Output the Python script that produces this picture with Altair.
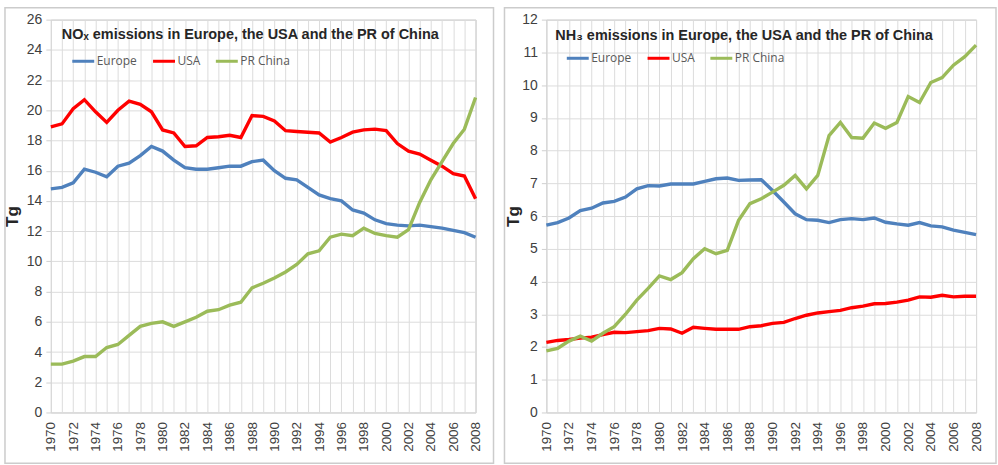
import altair as alt
import pandas as pd

years = list(range(1970, 2009))
series_names = ["Europe", "USA", "PR China"]
series_colors = ["#4F81BD", "#FF0000", "#9BBB59"]

nox_europe = [14.8, 14.9, 15.2, 16.1, 15.9, 15.6, 16.3, 16.5, 17.0, 17.6,
              17.3, 16.7, 16.2, 16.1, 16.1, 16.2, 16.3, 16.3, 16.6, 16.7,
              16.0, 15.5, 15.4, 14.9, 14.4, 14.15, 14.0, 13.4, 13.2, 12.75,
              12.5, 12.4, 12.35, 12.4, 12.3, 12.2, 12.05, 11.9, 11.6]
nox_usa = [18.9, 19.1, 20.1, 20.7, 19.9, 19.2, 20.0, 20.6, 20.4, 19.9,
           18.7, 18.5, 17.6, 17.65, 18.2, 18.25, 18.35, 18.2, 19.65, 19.6,
           19.3, 18.65, 18.6, 18.55, 18.5, 17.9, 18.2, 18.55, 18.7, 18.75,
           18.65, 17.8, 17.3, 17.1, 16.7, 16.3, 15.8, 15.65, 14.15]
nox_china = [3.2, 3.2, 3.4, 3.7, 3.7, 4.3, 4.5, 5.1, 5.7, 5.9,
             6.0, 5.7, 6.0, 6.3, 6.7, 6.8, 7.1, 7.3, 8.25, 8.55,
             8.9, 9.3, 9.8, 10.5, 10.7, 11.6, 11.8, 11.7, 12.2, 11.85,
             11.7, 11.6, 12.1, 13.9, 15.4, 16.6, 17.8, 18.75, 20.85]

nh3_europe = [5.72, 5.8, 5.94, 6.17, 6.24, 6.4, 6.45, 6.58, 6.83, 6.93,
              6.92, 6.98, 6.98, 6.98, 7.06, 7.14, 7.16, 7.09, 7.1, 7.11,
              6.78, 6.43, 6.07, 5.89, 5.87, 5.8, 5.89, 5.92, 5.89, 5.94,
              5.81, 5.76, 5.72, 5.8, 5.7, 5.67, 5.57, 5.5, 5.43]
nh3_usa = [2.14, 2.2, 2.23, 2.27, 2.3, 2.38, 2.45, 2.44, 2.47, 2.5,
           2.57, 2.55, 2.42, 2.6, 2.57, 2.54, 2.54, 2.54, 2.62, 2.65,
           2.72, 2.75, 2.87, 2.97, 3.04, 3.08, 3.12, 3.2, 3.25, 3.32,
           3.33, 3.37, 3.43, 3.53, 3.52, 3.58, 3.53, 3.55, 3.55]
nh3_china = [1.88, 1.96, 2.18, 2.33, 2.18, 2.42, 2.62, 3.0, 3.43, 3.79,
             4.17, 4.06, 4.27, 4.7, 5.0, 4.85, 4.95, 5.87, 6.38, 6.53,
             6.73, 6.94, 7.24, 6.83, 7.24, 8.46, 8.86, 8.4, 8.38, 8.84,
             8.68, 8.86, 9.65, 9.47, 10.08, 10.23, 10.61, 10.87, 11.22]

nox_title = "NO\u2093 emissions in Europe, the USA and the PR of China"
nh3_title = "NH\u2083 emissions in Europe, the USA and the PR of China"
y_title = "Tg"

nox_ticks = list(range(0, 27, 2))
nh3_ticks = list(range(0, 13, 1))

AXIS_FONT = "Liberation Sans"


def long_table(eu, us, cn):
    rows = []
    for name, vals in zip(series_names, [eu, us, cn]):
        for yr, v in zip(years, vals):
            rows.append({"year": yr, "series": name, "value": v})
    return pd.DataFrame(rows)


def panel(df, title, ymax, yticks, w, h, tx, ty, lx, ly, title_x, frame):
    fx1, fx2, fy1, fy2 = frame
    box = alt.Chart(pd.DataFrame({"f": [0]})).mark_rect(
        fillOpacity=0, stroke="#CCCCCC", strokeWidth=1.5
    ).encode(
        x=alt.value(fx1), x2=alt.value(w + fx2),
        y=alt.value(fy1), y2=alt.value(h + fy2),
    )
    lines = alt.Chart(df).mark_line(strokeWidth=3.4).encode(
        x=alt.X("year:Q", scale=alt.Scale(domain=[1970, 2008], nice=False, zero=False),
                axis=alt.Axis(values=years, format="d", title=None, labelAngle=-90,
                              labelExpr="datum.value % 2 == 0 ? datum.label : ''",
                              ticks=False, labelPadding=9, labelFontSize=13.5,
                              labelFont=AXIS_FONT, labelColor="#404040",
                              grid=True, gridColor="#DCDCDC", domain=False)),
        y=alt.Y("value:Q", scale=alt.Scale(domain=[0, ymax], nice=False),
                axis=alt.Axis(values=yticks, title=y_title, titleFontSize=17,
                              titleFont=AXIS_FONT, titleFontWeight="bold",
                              titleColor="#262626", titleX=title_x,
                              labelFontSize=14, labelFont=AXIS_FONT,
                              labelColor="#404040", tickSize=5,
                              tickColor="#D0D0D0", labelPadding=4,
                              grid=True, gridColor="#DCDCDC", domain=False)),
        color=alt.Color("series:N",
                        scale=alt.Scale(domain=series_names, range=series_colors),
                        legend=alt.Legend(orient="none", legendX=lx, legendY=ly,
                                          direction="horizontal", title=None,
                                          symbolType="stroke", symbolSize=484,
                                          symbolStrokeWidth=3, labelFontSize=12,
                                          labelFont="Open Sans", labelColor="#595959",
                                          labelOffset=1, columnPadding=9)),
        order=alt.Order("year:Q"),
    )
    ttl = alt.Chart(pd.DataFrame({"t": [title]})).mark_text(
        align="left", baseline="middle", fontSize=14.5, fontWeight="bold",
        font=AXIS_FONT, color="#262626"
    ).encode(x=alt.value(tx), y=alt.value(ty), text="t:N")
    return alt.layer(box, lines, ttl).properties(width=w, height=h)


left = panel(long_table(nox_europe, nox_usa, nox_china), nox_title, 26, nox_ticks,
             426, 394, 11, 15, 20, 29, -29, (-46, 18, -12, 51))
right = panel(long_table(nh3_europe, nh3_usa, nh3_china), nh3_title, 12, nh3_ticks,
              431, 394, 9, 16, 19, 26, -24, (-42, 20, -12, 51))

chart = alt.hconcat(left, right, spacing=7).resolve_scale(
    color="independent", x="independent", y="independent"
).properties(
    padding={"left": 3, "top": 5, "right": 0, "bottom": 0},
    background="white",
).configure_view(stroke="#BFBFBF", strokeWidth=1)

chart.save("out.html", embed_options={"renderer": "svg", "actions": False})
